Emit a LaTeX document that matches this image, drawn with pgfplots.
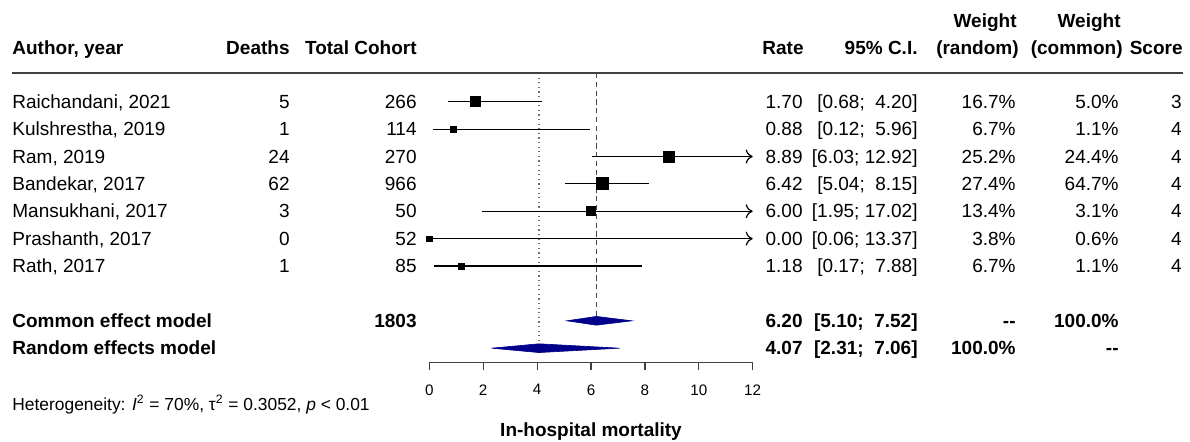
\documentclass[border=0pt]{standalone}
\usepackage{fontspec}
\setmainfont{Liberation Sans}
\usepackage{pgfplots}
\pgfplotsset{compat=1.18}
\usepackage{pgfplotstable}
\usetikzlibrary{arrows.meta}
\definecolor{diam}{RGB}{0,0,139}
\definecolor{refl}{RGB}{70,70,70}
\definecolor{refd}{RGB}{110,110,110}

% study estimates: row (negative = downwards), rate, CI, marker half-size (pt)
\pgfplotstableread{
y rate lo hi ms
-1 1.70 0.68 4.20 2.5
-2 0.88 0.12 5.96 1.5
-3 8.89 6.03 12.92 2.75
-4 6.42 5.04 8.15 3.0
-5 6.00 1.95 17.02 2.3
-6 0.00 0.06 13.37 1.3
-7 1.18 0.17 7.88 1.5
}\studies

\newcommand\rowtext[9]{%
 \node[anchor=base west] at (12,#1) {#2};
 \node[anchor=base east] at (290,#1) {#3};
 \node[anchor=base east] at (417,#1) {#4};
 \node[anchor=base east] at (803,#1) {#5};
 \node[anchor=base east] at (918,#1) {#6};
 \node[anchor=base east] at (1016,#1) {#7};
 \node[anchor=base east] at (1119,#1) {#8};
 \node[anchor=base east] at (1182,#1) {#9};}

\begin{document}
\begin{tikzpicture}[font=\fontsize{9.5}{11}\selectfont]
\useasboundingbox (0,0) rectangle (595pt,-221pt);
\begin{axis}[
 at={(214.65pt,-181.35pt)}, anchor=south west,
 scale only axis, width=161.7pt, height=144.85pt,
 xmin=0, xmax=12, ymin=-10.53, ymax=0.05,
 axis x line*=bottom, hide y axis, clip=false,
 xtick={0,2,...,12}, tick align=outside, major tick length=3.5pt,
 x axis line style={black!75, line width=0.6pt},
 every tick/.style={black!75, line width=0.6pt},
 xticklabel style={font=\fontsize{7.6}{9}\selectfont, anchor=north, inner sep=0pt, yshift=-7.2pt},
 /pgf/number format/assume math mode=true,
]
% reference lines (common = dashed, random = dotted)
\addplot[refl, line width=0.7pt, dash pattern=on 2.6pt off 1.8pt] coordinates {(6.20,0.05) (6.20,-8.84)};
\addplot[refd, line width=0.65pt, dash pattern=on 0.6pt off 1.7pt] coordinates {(4.07,0.05) (4.07,-9.84)};
% confidence intervals
\addplot[black, line width=0.6pt] coordinates {(0.68,-1) (4.20,-1)};
\addplot[black, line width=0.6pt] coordinates {(0.12,-2) (5.96,-2)};
\addplot[black, line width=0.6pt, -{To[length=3.5pt,width=7pt]}] coordinates {(6.03,-3) (12,-3)};
\addplot[black, line width=0.6pt] coordinates {(5.04,-4) (8.15,-4)};
\addplot[black, line width=0.6pt, -{To[length=3.5pt,width=7pt]}] coordinates {(1.95,-5) (12,-5)};
\addplot[black, line width=0.6pt, -{To[length=3.5pt,width=7pt]}] coordinates {(0.00,-6) (12,-6)};
\addplot[black, line width=0.6pt] coordinates {(0.17,-7) (7.88,-7)};
% point estimates
\addplot[scatter, only marks, mark=square*,
  scatter/use mapped color={draw=black, fill=black},
  visualization depends on={\thisrow{ms} \as \msz},
  scatter/@pre marker code/.append style={/tikz/mark size=\msz}]
  table[x=rate, y=y] {\studies};
% pooled diamonds
\addplot[fill=diam, draw=diam, line width=0.3pt] coordinates {(5.10,-9) (6.20,-8.84) (7.52,-9) (6.20,-9.16)} -- cycle;
\addplot[fill=diam, draw=diam, line width=0.3pt] coordinates {(2.31,-10) (4.07,-9.84) (7.06,-10) (4.07,-10.16)} -- cycle;
\end{axis}

\begin{scope}[x=0.5pt, y=-0.5pt, every node/.style={inner sep=0pt}]
\draw[black!75, line width=0.6pt] (12,73) -- (1183,73);
% header
\begin{scope}[font=\fontsize{9.5}{11}\selectfont\bfseries]
\node[anchor=base east] at (1017,28) {Weight};
\node[anchor=base east] at (1121,28) {Weight};
\node[anchor=base west] at (12,55) {Author, year};
\node[anchor=base east] at (290,55) {Deaths};
\node[anchor=base east] at (417,55) {Total Cohort};
\node[anchor=base east] at (804,55) {Rate};
\node[anchor=base east] at (918,55) {95\% C.I.};
\node[anchor=base east] at (1019,55) {(random)};
\node[anchor=base east] at (1123,55) {(common)};
\node[anchor=base east] at (1183,55) {Score};
\end{scope}
% studies
\rowtext{108.5}{Raichandani, 2021}{5}{266}{1.70}{[0.68;~~4.20]}{16.7\%}{5.0\%}{3}
\rowtext{135.9}{Kulshrestha, 2019}{1}{114}{0.88}{[0.12;~~5.96]}{6.7\%}{1.1\%}{4}
\rowtext{163.3}{Ram, 2019}{24}{270}{8.89}{[6.03; 12.92]}{25.2\%}{24.4\%}{4}
\rowtext{190.6}{Bandekar, 2017}{62}{966}{6.42}{[5.04;~~8.15]}{27.4\%}{64.7\%}{4}
\rowtext{218.0}{Mansukhani, 2017}{3}{50}{6.00}{[1.95; 17.02]}{13.4\%}{3.1\%}{4}
\rowtext{245.4}{Prashanth, 2017}{0}{52}{0.00}{[0.06; 13.37]}{3.8\%}{0.6\%}{4}
\rowtext{272.8}{Rath, 2017}{1}{85}{1.18}{[0.17;~~7.88]}{6.7\%}{1.1\%}{4}
% pooled
\begin{scope}[font=\fontsize{9.5}{11}\selectfont\bfseries]
\rowtext{327.5}{Common effect model}{}{1803}{6.20}{[5.10;~~7.52]}{-{}-}{100.0\%}{}
\rowtext{354.9}{Random effects model}{}{}{4.07}{[2.31;~~7.06]}{100.0\%}{-{}-}{}
\node[anchor=base] at (591,437) {In-hospital mortality};
\end{scope}
\node[anchor=base west, font=\fontsize{8.7}{10}\selectfont] at (12,411)
 {Heterogeneity: \textit{I}\textsuperscript{2} = 70\%, τ\textsuperscript{2} = 0.3052, \textit{p} < 0.01};
\end{scope}
\end{tikzpicture}
\end{document}
